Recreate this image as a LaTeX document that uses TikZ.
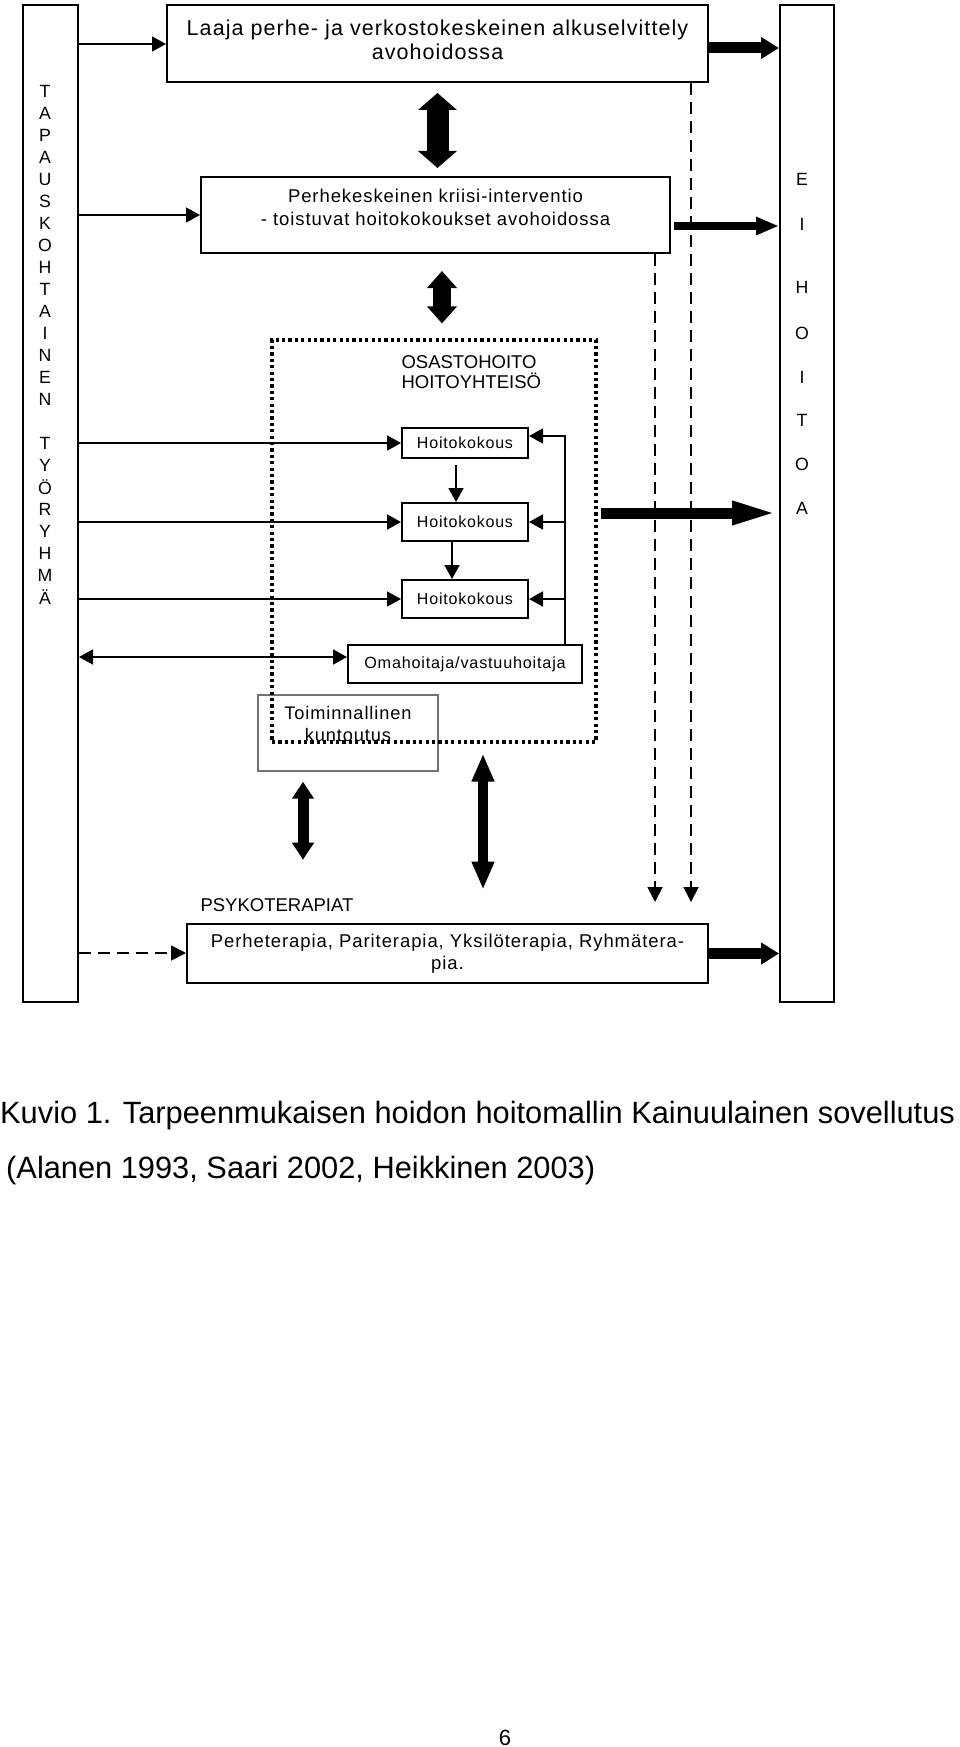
\documentclass[tikz,border=0pt]{standalone}
\usepackage{fontspec}
\setmainfont{Liberation Sans}
\newfontfamily\boxfont[LetterSpace=5]{Liberation Sans}
\usetikzlibrary{calc,arrows.meta}

\begin{document}
\begin{tikzpicture}[x=1pt,y=-1pt,
    laatikko/.style={draw,line width=2pt,fill=white,inner sep=0pt,align=center},
    ohut/.style={line width=1.8pt,-{Triangle[length=14pt,width=15pt]}},
    katko/.style={line width=1.8pt,dash pattern=on 12pt off 7pt,-{Triangle[length=15pt,width=15pt]}},
    paksu/.style={line width=11pt,-{Triangle[length=18pt,width=21pt]}},
    kirjain/.style={font=\fontsize{17.7}{20}\selectfont}]
  \useasboundingbox (0,0) rectangle (960,1747);
  % Side columns
  \node[laatikko,minimum width=55pt,minimum height=997pt] (tyoryhma) at (50.5,503.5) {};
  \node[laatikko,minimum width=54pt,minimum height=997pt] (eihoitoa) at (807,503.5) {};
  \foreach \ch [count=\i] in {T,A,P,A,U,S,K,O,H,T,A,I,N,E,N}
    \node[kirjain] (ta\i) at (45,{91+22*(\i-1)}) {\ch};
  \foreach \ch [count=\i] in {T,Y,Ö,R,Y,H,M,Ä}
    \node[kirjain] (ty\i) at (45,{443+22*(\i-1)}) {\ch};
  \foreach \ch/\y [count=\i] in {E/179,I/224,H/287,O/333,I/377,T/420,O/464,A/508}
    \node[kirjain] (eh\i) at (802,\y) {\ch};
  % Boxes
  \node[laatikko,minimum width=541pt,minimum height=77pt,text depth=7pt,font=\boxfont\fontsize{21.5}{24}\selectfont] (laaja) at (437.5,43.5)
    {Laaja perhe- ja verkostokeskeinen alkuselvittely\\avohoidossa};
  \node[laatikko,minimum width=469pt,minimum height=76pt,text depth=16pt,font=\boxfont\fontsize{18.5}{23}\selectfont] (kriisi) at (435.5,215)
    {Perhekeskeinen kriisi-interventio\\- toistuvat hoitokokoukset avohoidossa};
  \node[anchor=west,align=left,font=\fontsize{18.5}{20}\selectfont] (osastoteksti) at (398,372) {OSASTOHOITO\\HOITOYHTEISÖ};
  \node[laatikko,minimum width=126pt,minimum height=30pt,font=\boxfont\fontsize{16}{19}\selectfont] (hk1) at (465,443) {Hoitokokous};
  \node[laatikko,minimum width=126pt,minimum height=38pt,font=\boxfont\fontsize{16}{19}\selectfont] (hk2) at (465,522) {Hoitokokous};
  \node[laatikko,minimum width=126pt,minimum height=38pt,font=\boxfont\fontsize{16}{19}\selectfont] (hk3) at (465,599) {Hoitokokous};
  \node[laatikko,minimum width=234pt,minimum height=38pt,font=\boxfont\fontsize{16.2}{19}\selectfont] (oma) at (465,664) {Omahoitaja/vastuuhoitaja};
  \node[laatikko,draw=black!55,line width=1.4pt,minimum width=180pt,minimum height=76pt,text depth=18pt,font=\boxfont\fontsize{18.2}{22}\selectfont] (toim) at (348,733)
    {Toiminnallinen\\kuntoutus};
  \node[anchor=west,font=\fontsize{18.5}{20}\selectfont] (psykoteksti) at (197,905) {PSYKOTERAPIAT};
  \node[laatikko,minimum width=521pt,minimum height=59pt,font=\boxfont\fontsize{18.5}{22}\selectfont] (psyko) at (447.5,953.5)
    {Perheterapia, Pariterapia, Yksilöterapia, Ryhmätera-\\pia.};
  % Arrows from the team
  \draw[ohut] ($(tyoryhma.east |- laaja.west)+(0,0.5)$) -- ($(laaja.west)+(0,0.5)$);
  \draw[ohut] (tyoryhma.east |- kriisi.west) -- (kriisi.west);
  \foreach \n in {hk1,hk2,hk3}
    \draw[ohut] (tyoryhma.east |- \n.west) -- (\n.west);
  \draw[ohut,{Triangle[length=14pt,width=15pt]}-{Triangle[length=14pt,width=15pt]}]
    ($(tyoryhma.east |- oma.west)+(0,-7)$) -- ($(oma.west)+(0,-7)$);
  \draw[katko] ($(tyoryhma.east |- psyko.west)+(0,-0.5)$) -- ($(psyko.west)+(0,-0.5)$);
  % Meetings in a row, fed back by the nurse
  \draw[ohut] ($(hk1.south)+(-9,6)$) -- ($(hk2.north)+(-9,0)$);
  \draw[ohut] ($(hk2.south)+(-13,0)$) -- ($(hk3.north)+(-13,0)$);
  \coordinate (palaute) at ($(oma.north east)+(-18,0)$);
  \draw[ohut] (palaute) |- ($(hk1.east)+(0,-7)$);
  \draw[ohut] (palaute |- hk2.east) -- (hk2.east);
  \draw[ohut] (palaute |- hk3.east) -- (hk3.east);
  % Ward frame
  \node[draw,line width=3.2pt,dash pattern=on 3.2pt off 3.2pt,minimum width=324pt,minimum height=402pt,inner sep=0pt] (osasto) at (434,541) {};
  % Thick arrows
  \draw[paksu] ($(laaja.east)+(0,4.5)$) -- ($(laaja.east -| eihoitoa.west)+(0,4.5)$);
  \draw[line width=8pt,-{Triangle[length=23pt,width=17pt]}] ($(kriisi.east)+(3,11)$) -- ($(kriisi.east -| eihoitoa.west)+(0,11)$);
  \draw[paksu,-{Triangle[length=47pt,width=21pt]}] ($(osasto.east)+(3,-28)$) -- ($(osasto.east -| eihoitoa.west)+(0,-28)$);
  \draw[paksu] (psyko.east) -- (psyko.east -| eihoitoa.west);
  \draw[line width=22pt,{Triangle[length=17pt,width=38pt]}-{Triangle[length=17pt,width=38pt]}]
    ($(laaja.south)+(0,10)$) -- ($(laaja.south |- kriisi.north)+(0,-8)$);
  \draw[line width=18pt,{Triangle[length=17pt,width=29pt]}-{Triangle[length=17pt,width=29pt]}]
    ($(kriisi.south)+(6.5,17)$) -- ($(kriisi.south |- osasto.north)+(6.5,-15)$);
  \draw[line width=11pt,{Triangle[length=17pt,width=21pt]}-{Triangle[length=17pt,width=21pt]}]
    ($(toim.south)+(-45,10)$) -- ($(toim.south)+(-45,88)$);
  \draw[line width=10pt,{Triangle[length=28pt,width=21pt]}-{Triangle[length=28pt,width=21pt]}]
    ($(osasto.south)+(49,10)$) -- ($(osasto.south)+(49,146)$);
  % Dashed routes to therapies
  \draw[katko] ($(laaja.south east)+(-18,0)$) -- ($(laaja.south east |- psyko.north)+(-18,-21)$);
  \draw[katko] ($(kriisi.south east)+(-16,0)$) -- ($(kriisi.south east |- psyko.north)+(-16,-21)$);
  % Caption
  \node[anchor=base west,inner sep=0pt,font=\fontsize{30.8}{36}\selectfont] (kuvio) at (0,1123)
    {Kuvio 1. Tarpeenmukaisen hoidon hoitomallin Kainuulainen sovellutus};
  \node[anchor=base west,inner sep=0pt,font=\fontsize{30.8}{36}\selectfont] (lahteet) at (6,1178)
    {(Alanen 1993, Saari 2002, Heikkinen 2003)};
  \node[anchor=base,inner sep=0pt,font=\fontsize{22}{26}\selectfont] (sivu) at (505,1745) {6};
\end{tikzpicture}
\end{document}
